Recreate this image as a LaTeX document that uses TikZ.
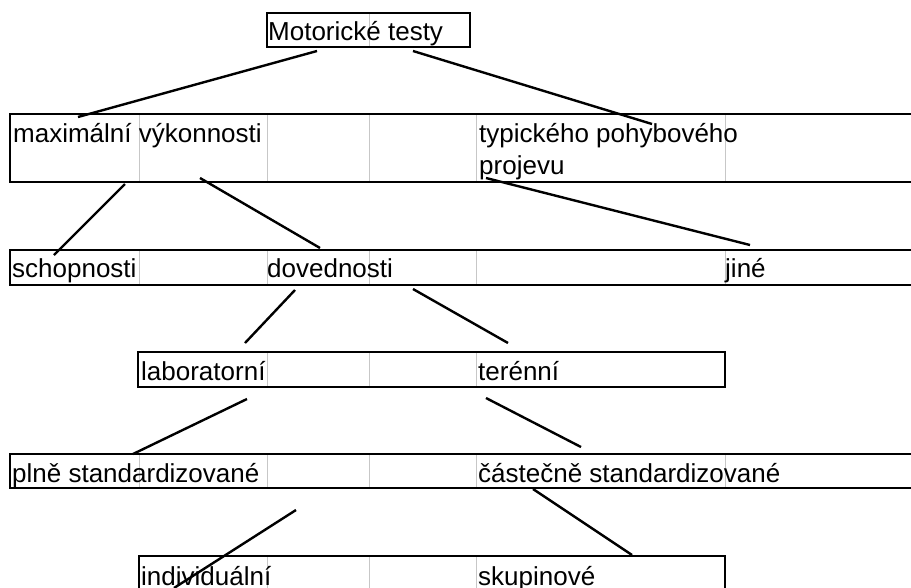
\documentclass[tikz,border=0pt]{standalone}
\usepackage{fontspec}
\setmainfont{Liberation Sans}
\tikzset{
  cellbox/.style={draw=black, line width=2pt},
  cellrule/.style={draw=black!22, line width=0.8pt},
  lbl/.style={anchor=base west, inner sep=0pt, font=\fontsize{26}{30}\selectfont},
  link/.style={line width=2.4pt}
}
\begin{document}
\begin{tikzpicture}[x=1pt,y=-1pt]
      \useasboundingbox (0,0) rectangle (911,587);
      \begin{scope}
        \foreach \x in {139,267,369,476,725} {
          \draw[cellrule] (\x,114) -- (\x,182);
          \draw[cellrule] (\x,250) -- (\x,285);
          \draw[cellrule] (\x,454) -- (\x,488);
        }
        \foreach \x in {267,369,476} {
          \draw[cellrule] (\x,352) -- (\x,387);
          \draw[cellrule] (\x,556) -- (\x,600);
        }
        \draw[cellrule] (369,13) -- (369,47);
      \end{scope}
      \draw[cellbox] (267,13) rectangle (470,47);
      \draw[cellbox] (10,114) rectangle (920,182);
      \draw[cellbox] (10,250) rectangle (920,285);
      \draw[cellbox] (138,352) rectangle (725,387);
      \draw[cellbox] (10,454) rectangle (920,488);
      \draw[cellbox] (139,556) rectangle (725,600);
      \draw
        (268,40) node[lbl] (mt){Motorické testy}
        (13,142) node[lbl] (mv){maximální výkonnosti}
        (479,142) node[lbl] (tp){typického pohybového}
        (479,174) node[lbl] (pj){projevu}
        (12,277) node[lbl] (sc){schopnosti}
        (267,277) node[lbl] (dv){dovednosti}
        (725,277) node[lbl] (ji){jiné}
        (141,380) node[lbl] (lb){laboratorní}
        (478,380) node[lbl] (te){terénní}
        (12,482) node[lbl] (ps){plně standardizované}
        (478,482) node[lbl] (cs){částečně standardizované}
        (141,585) node[lbl] (in){individuální}
        (478,585) node[lbl] (sk){skupinové};
      \coordinate (mt-l) at (317,51);
      \coordinate (mt-r) at (413,51);
      \coordinate (mv-t) at (78,117);
      \coordinate (tp-t) at (652,124);
      \coordinate (mv-l) at (125,184);
      \coordinate (mv-r) at (200,178);
      \coordinate (pj-b) at (486,178);
      \coordinate (sc-t) at (54,255);
      \coordinate (dv-t) at (320,248);
      \coordinate (ji-t) at (750,245);
      \coordinate (dv-l) at (295,290);
      \coordinate (dv-r) at (413,289);
      \coordinate (lb-t) at (245,343);
      \coordinate (te-t) at (508,343);
      \coordinate (lb-b) at (247,399);
      \coordinate (te-b) at (486,398);
      \coordinate (ps-t) at (133,454);
      \coordinate (cs-t) at (581,447);
      \coordinate (ps-b) at (296,510);
      \coordinate (cs-b) at (533,489);
      \coordinate (in-t) at (174,588);
      \coordinate (sk-t) at (632,555);
      \begin{scope}[link]
        \draw (mt-l) to (mv-t);
        \draw (mt-r) to (tp-t);
        \draw (mv-l) to (sc-t);
        \draw (mv-r) to (dv-t);
        \draw (pj-b) to (ji-t);
        \draw (dv-l) to (lb-t);
        \draw (dv-r) to (te-t);
        \draw (lb-b) to (ps-t);
        \draw (te-b) to (cs-t);
        \draw (ps-b) to (in-t);
        \draw (cs-b) to (sk-t);
      \end{scope}
    \end{tikzpicture}
\end{document}
